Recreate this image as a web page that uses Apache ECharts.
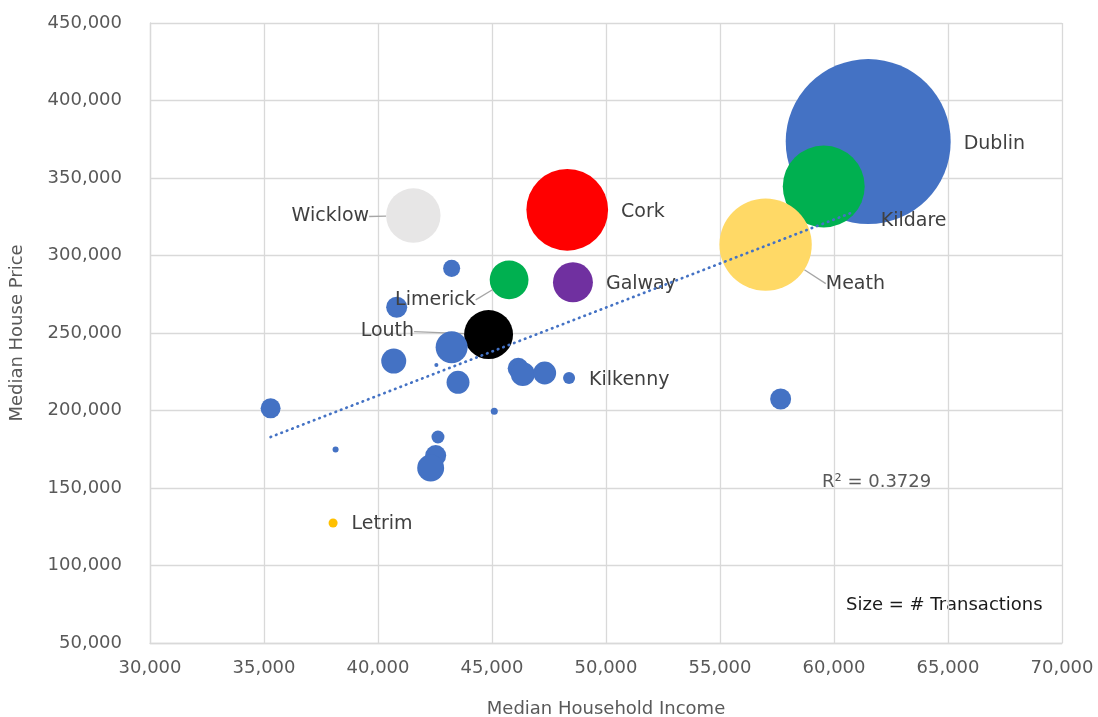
<!DOCTYPE html>
<html>
<head>
<meta charset="utf-8">
<script src="https://cdn.jsdelivr.net/npm/echarts@6/dist/echarts.min.js"></script>
<style>
html,body{margin:0;padding:0;background:#fff;}
#chart{width:1098px;height:717px;}
</style>
</head>
<body>
<div id="chart"></div>
<script>
// ---- data ----
const counties = ['Dublin','Kildare','Meath','Cork','Galway','Limerick','Louth','Wicklow','Letrim','Kilkenny',
  '','','','','','','','','','','','','','','',''];
const income = [61500,59550,57000,48300,48550,45750,44850,41550,38030,48380,
  43230,40820,43230,40690,42560,43510,46150,46350,47310,35290,38140,45100,42630,42530,42310,57660];
const price = [373500,344500,307000,329500,282700,284300,249000,325800,127400,221000,
  291700,266600,240800,231900,229400,218200,227200,223500,224200,201400,174900,199500,182900,170900,162900,207400];
const transactions = [15000,3700,4700,3680,880,830,1320,1630,45,80,
  160,245,565,345,9,290,245,320,290,220,20,27,93,243,400,243];
const trendIncome = [35290, 60700];
const trendPrice = [182900, 327200];
const xTicks = {min:30000, max:70000, step:5000};
const yTicks = {min:50000, max:450000, step:50000};
const rSquared = 'R² = 0.3729';

// ---- styles ----
const FONT = 'DejaVu Sans';
const BLUE = '#4472C4';
const colorMap = {Dublin:BLUE, Kildare:'#00B050', Meath:'#FFD966', Cork:'#FF0000', Galway:'#7030A0',
  Limerick:'#00B050', Louth:'#000000', Wicklow:'#E7E6E6', Letrim:'#FFC000', Kilkenny:BLUE};
const labelSpec = {
  Dublin:{pos:'right', dist:13, dx:0, dy:2},
  Cork:{pos:'right', dist:13, dx:0, dy:2},
  Galway:{pos:'right', dist:13, dx:0, dy:2},
  Kilkenny:{pos:'right', dist:14, dx:0, dy:2},
  Letrim:{pos:'right', dist:14, dx:0, dy:1},
  Kildare:{pos:'right', dist:5, dx:11, dy:35, line:true},
  Meath:{pos:'right', dist:5, dx:9, dy:39, line:true},
  Limerick:{pos:'left', dist:5, dx:-9, dy:20, line:true},
  Louth:{pos:'left', dist:5, dx:-45, dy:-3, line:true},
  Wicklow:{pos:'left', dist:5, dx:-12, dy:1, line:true}
};
const SIZE_K = 1.347;
const fmt = v => v.toString().replace(/\B(?=(\d{3})+(?!\d))/g, ',');

const bubbleData = counties.map((n,i) => {
  const spec = labelSpec[n];
  return {
    name: n,
    value: [income[i], price[i], transactions[i]],
    itemStyle: {color: colorMap[n] || BLUE, opacity: 1},
    label: spec ? {show:true, position:spec.pos, distance:spec.dist, formatter:n} : {show:false},
    labelLine: spec && spec.line ? {show:true} : {show:false}
  };
});

const trendData = trendIncome.map((x,i) => [x, trendPrice[i]]);

const chart = echarts.init(document.getElementById('chart'), null, {renderer:'canvas'});
chart.setOption({
  animation:false,
  backgroundColor:'#ffffff',
  grid:{left:150, right:36, top:23, bottom:74, containLabel:false, outerBoundsMode:'none'},
  xAxis:{
    type:'value', min:xTicks.min, max:xTicks.max, interval:xTicks.step,
    name:'Median Household Income', nameLocation:'middle', nameGap:57,
    nameTextStyle:{fontFamily:FONT, fontSize:18, color:'#595959'},
    axisLine:{show:true, lineStyle:{color:'#d9d9d9', width:1.3}},
    axisTick:{show:false},
    axisLabel:{fontFamily:FONT, fontSize:18, color:'#595959', margin:16, formatter:fmt},
    splitLine:{show:true, lineStyle:{color:'#d9d9d9', width:1.3}}
  },
  yAxis:{
    type:'value', min:yTicks.min, max:yTicks.max, interval:yTicks.step,
    name:'Median House Price', nameLocation:'middle', nameGap:124, nameRotate:90,
    nameTextStyle:{fontFamily:FONT, fontSize:18, color:'#595959'},
    axisLine:{show:true, lineStyle:{color:'#d9d9d9', width:1.3}},
    axisTick:{show:false},
    axisLabel:{fontFamily:FONT, fontSize:18, color:'#595959', margin:28, formatter:fmt},
    splitLine:{show:true, lineStyle:{color:'#d9d9d9', width:1.3}}
  },
  series:[
    {
      type:'scatter',
      data:bubbleData,
      symbol:'circle',
      symbolSize: v => SIZE_K * Math.sqrt(v[2]),
      label:{fontFamily:FONT, fontSize:19, color:'#404040'},
      labelLine:{lineStyle:{color:'#a6a6a6', width:1.3}},
      labelLayout: p => {
        const s = labelSpec[counties[p.dataIndex]];
        return s ? {dx:s.dx||0, dy:s.dy||0} : {};
      },
      emphasis:{disabled:true},
      z:2
    },
    {
      type:'line',
      data:trendData,
      symbol:'none',
      lineStyle:{color:BLUE, width:2.7, type:[0.5,5.3], cap:'round'},
      z:3,
      silent:true
    }
  ],
  graphic:[
    {type:'text', left:822, top:473, style:{text:rSquared, font:'18px "DejaVu Sans"', fill:'#595959'}},
    {type:'text', left:846, top:596, style:{text:'Size = # Transactions', font:'18px "DejaVu Sans"', fill:'#1a1a1a'}}
  ]
});
</script>
</body>
</html>
